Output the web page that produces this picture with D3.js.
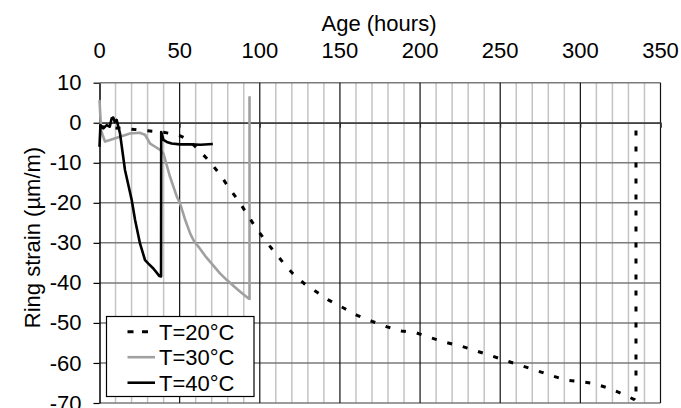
<!DOCTYPE html>
<html>
<head>
<meta charset="utf-8">
<script src="https://cdn.jsdelivr.net/npm/d3@7"></script>
<style>
  body { margin: 0; background: #fff; }
  text { font-family: "Liberation Sans", Arial, sans-serif; fill: #000; }
</style>
</head>
<body>
<script>
// T=20°C series (age in hours, ring strain in µm/m)
var age20 = [0, 10, 20, 30, 40, 46, 50, 55.5, 62.4, 69, 75.3, 81, 86.8, 92, 97.2, 102.8, 109, 114.5, 120.7, 127.8, 135.3, 143, 152, 160.7, 170, 179.5, 188.4, 197.8, 206.6, 216.4, 225.7, 235, 244.5, 253.4, 262.8, 272, 281.6, 291, 299.3, 308, 317, 326, 334, 334.7, 334.7];
var strain20 = [-1, -1.3, -1.6, -2, -2.4, -2.8, -3.2, -4.3, -7, -9.8, -13, -16.4, -19.5, -22.8, -26, -29.1, -32.2, -34.9, -37.7, -40.2, -42.2, -44.3, -46.2, -48.1, -49.6, -51, -52, -52.5, -53.7, -54.9, -55.8, -57, -58.2, -59.4, -60.6, -61.8, -63.1, -64.3, -64.6, -65.1, -66.2, -67.7, -69.2, -69.5, -0.5];

// T=30°C series
var age30 = [0, 1, 3.4, 6.5, 12.8, 19, 25, 28.4, 31.6, 34.7, 37.8, 39.9, 44, 48.3, 50.3, 53.5, 56.6, 59, 61.8, 66, 70, 75.3, 79.5, 84, 87.8, 93, 93.6, 93.6];
var strain30 = [5.7, -2, -4.7, -4.3, -3.5, -2.7, -2.5, -3, -5.2, -6, -6.8, -7.7, -13.5, -18.5, -20.2, -24.3, -27.7, -29.6, -31, -33.3, -35.2, -37.7, -39.3, -40.9, -42.2, -43.9, -44, 6.6];

// T=40°C series
var age40 = [0, 0.6, 2.4, 4.5, 6.4, 7.6, 8.6, 9.5, 10.7, 12.8, 15.9, 20.1, 22.2, 25.3, 28.4, 30.5, 33.6, 37.4, 38.4, 38.5, 39.9, 42, 45, 50, 56.6, 63, 70.7];
var strain40 = [-6, -0.6, -1.4, -0.6, -1, 1.1, 1.3, 0.2, 0.7, -2.7, -11.8, -19.3, -24.3, -30.2, -34.3, -35.2, -36.4, -38.3, -38.4, -2.3, -4.3, -4.8, -5.2, -5.4, -5.4, -5.5, -5.3];

var xTicks = [0, 50, 100, 150, 200, 250, 300, 350];
var yTicks = [10, 0, -10, -20, -30, -40, -50, -60, -70];
var legendLabels = ["T=20°C", "T=30°C", "T=40°C"];

var width = 681, height = 408;
var plotLeft = 99.5, plotRight = 660.5, plotTop = 82.7, plotBottom = 403;
var fontSize = "22px";

var svg = d3.select("body").append("svg")
    .attr("width", width)
    .attr("height", height);

var x = d3.scaleLinear().domain([0, 350]).range([plotLeft, plotRight]);
var y = d3.scaleLinear().domain([-70, 10]).range([plotBottom, plotTop]);

//minor vertical grid every 10 hours
svg.append("g").selectAll("line")
    .data(d3.range(10, 350, 10).filter(function(d){ return d % 50 != 0; }))
    .enter().append("line")
    .attr("x1", function(d){ return x(d); })
    .attr("x2", function(d){ return x(d); })
    .attr("y1", plotTop).attr("y2", plotBottom)
    .attr("stroke", "#c4c4c4")
    .attr("stroke-width", 1.5);

//horizontal grid
svg.append("g").selectAll("line")
    .data(yTicks)
    .enter().append("line")
    .attr("x1", plotLeft).attr("x2", plotRight)
    .attr("y1", function(d){ return y(d); })
    .attr("y2", function(d){ return y(d); })
    .attr("stroke", "#7a7a7a")
    .attr("stroke-width", 1.5);

//major vertical grid every 50 hours
svg.append("g").selectAll("line")
    .data(xTicks.slice(1))
    .enter().append("line")
    .attr("x1", function(d){ return x(d); })
    .attr("x2", function(d){ return x(d); })
    .attr("y1", plotTop).attr("y2", plotBottom)
    .attr("stroke", "#111")
    .attr("stroke-width", 1.2);

//x axis crossing at zero, labels shown at the top
var xAxisLine = svg.append("g")
    .attr("transform", "translate(0," + y(0) + ")")
    .call(d3.axisBottom(x).tickValues(xTicks).tickSize(5).tickFormat(""));
xAxisLine.select(".domain").attr("stroke", "#444").attr("stroke-width", 1.5);
xAxisLine.selectAll(".tick line").attr("stroke", "#222");

svg.append("g").selectAll("text")
    .data(xTicks)
    .enter().append("text")
    .attr("x", function(d){ return x(d); })
    .attr("y", 58)
    .attr("text-anchor", "middle")
    .style("font-size", fontSize)
    .text(function(d){ return d; });

svg.append("text")
    .attr("x", 379)
    .attr("y", 31)
    .attr("text-anchor", "middle")
    .style("font-size", fontSize)
    .text("Age (hours)");

//y axis, plain hyphen for negatives
var yAxis = svg.append("g")
    .attr("transform", "translate(" + plotLeft + ",0)")
    .call(d3.axisLeft(y).tickValues(yTicks).tickSize(6).tickPadding(12).tickSizeOuter(0)
        .tickFormat(function(d){ return String(d); }));
yAxis.select(".domain").attr("stroke", "#000").attr("stroke-width", 1.5);
yAxis.selectAll(".tick line").attr("stroke", "#000").attr("stroke-width", 1.2);
yAxis.selectAll(".tick text")
    .style("font-size", fontSize)
    .style("font-family", "'Liberation Sans', Arial, sans-serif")
    .attr("fill", "#000");

svg.append("text")
    .attr("transform", "translate(40,237.5) rotate(-90)")
    .attr("text-anchor", "middle")
    .style("font-size", fontSize)
    .text("Ring strain (µm/m)");

//series
var line = d3.line()
    .x(function(d){ return x(d[0]); })
    .y(function(d){ return y(d[1]); });

function pairs(a, b){
    return a.map(function(v, i){ return [v, b[i]]; });
}

svg.append("path")
    .datum(pairs(age30, strain30))
    .attr("d", line)
    .attr("fill", "none")
    .attr("stroke", "#a0a0a0")
    .attr("stroke-width", 2.6)
    .attr("stroke-linejoin", "round");

svg.append("path")
    .datum(pairs(age40, strain40))
    .attr("d", line)
    .attr("fill", "none")
    .attr("stroke", "#000")
    .attr("stroke-width", 2.6)
    .attr("stroke-linejoin", "round");

svg.append("path")
    .datum(pairs(age20, strain20))
    .attr("d", line)
    .attr("fill", "none")
    .attr("stroke", "#000")
    .attr("stroke-width", 3)
    .attr("stroke-dasharray", "5,11");

//legend
var legend = svg.append("g");
legend.append("rect")
    .attr("x", 106.5).attr("y", 316.5)
    .attr("width", 147.5).attr("height", 80)
    .attr("fill", "#fff")
    .attr("stroke", "#000")
    .attr("stroke-width", 1.2);

var legendStyles = [
    { color: "#000", dash: "6,8.5", w: 3, x2: 148 },
    { color: "#a0a0a0", dash: null, w: 2.6, x2: 155 },
    { color: "#000", dash: null, w: 2.6, x2: 155 }
];

legendLabels.forEach(function(lab, i){
    var cy = 331.7 + i * 25.5;
    legend.append("line")
        .attr("x1", 127.5).attr("x2", legendStyles[i].x2)
        .attr("y1", cy).attr("y2", cy)
        .attr("stroke", legendStyles[i].color)
        .attr("stroke-width", legendStyles[i].w)
        .attr("stroke-dasharray", legendStyles[i].dash);
    legend.append("text")
        .attr("x", 159)
        .attr("y", cy + 8)
        .style("font-size", fontSize)
        .text(lab);
});
</script>
</body>
</html>
